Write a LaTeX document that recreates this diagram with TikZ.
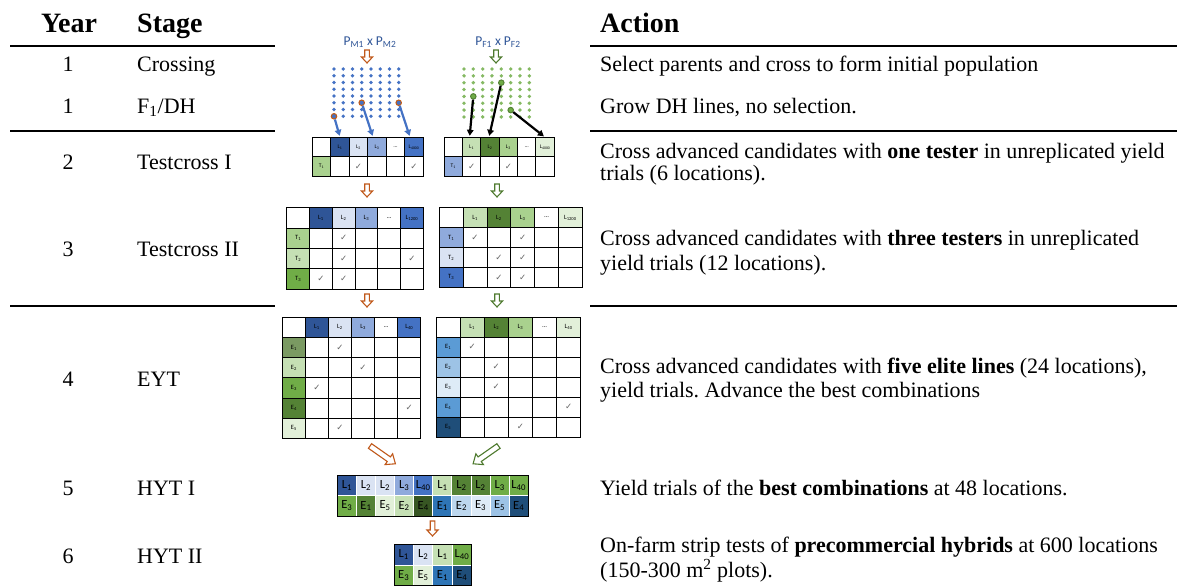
\documentclass[tikz,border=0pt]{standalone}
\usepackage{fontspec}
\setmainfont{Liberation Serif}
\newfontfamily\calib{Carlito}
\newfontfamily\djv{DejaVu Sans}
\usetikzlibrary{arrows.meta}
\frenchspacing
\definecolor{cDB}{HTML}{2F5597}
\definecolor{cLB}{HTML}{DAE3F3}
\definecolor{cMB}{HTML}{8FAADC}
\definecolor{cB}{HTML}{4472C4}
\definecolor{cLG}{HTML}{C5E0B4}
\definecolor{cDG}{HTML}{548235}
\definecolor{cMG}{HTML}{A9D18E}
\definecolor{cVG}{HTML}{E2F0D9}
\definecolor{cG}{HTML}{70AD47}
\definecolor{cOG}{HTML}{7A9A62}
\definecolor{cDDG}{HTML}{375623}
\definecolor{cSB}{HTML}{5B9BD5}
\definecolor{cSBb}{HTML}{9DC3E6}
\definecolor{cSBc}{HTML}{DEEBF7}
\definecolor{cNB}{HTML}{1F4E79}
\definecolor{cEB}{HTML}{2E75B6}
\definecolor{cEBb}{HTML}{BDD7EE}
\definecolor{abrown}{HTML}{C0581A}
\definecolor{agreen}{HTML}{4E7A2E}
\definecolor{ptxt}{HTML}{2F5597}
\definecolor{seldot}{HTML}{C55A11}
\tikzset{
  hdr/.style={font=\fontsize{28}{33}\selectfont\bfseries, inner sep=0},
  body/.style={font=\fontsize{22}{26}\selectfont, inner sep=0, anchor=base west},
  yr/.style={font=\fontsize{22}{26}\selectfont, inner sep=0, anchor=base},
  rulel/.style={line width=1.3pt},
  tline/.style={line width=0.9pt, line cap=rect},
  chk/.style={font=\djv\fontsize{8.5}{9}\selectfont, text=black!60, inner sep=0},
  plabel/.style={font=\calib\fontsize{13.5}{15}\selectfont, text=ptxt, inner sep=0},
  seldotL/.style={circle, draw=seldot, fill=cB, line width=1pt, minimum size=5.5pt, inner sep=0},
  seldotR/.style={circle, draw=cDG, fill=cG, line width=1pt, minimum size=5.5pt, inner sep=0},
  barrow/.style={cB, line width=2.2pt, -{Triangle[length=6pt,width=6.5pt]}, shorten >=1.5pt},
  karrow/.style={black, line width=2.2pt, -{Triangle[length=6pt,width=6.5pt]}, shorten >=1.5pt},
  pics/harrow/.style={code={
    \draw[line width=1.1pt, fill=white, line join=miter]
      (-2.3,0) -- (2.3,0) -- (2.3,#1-6) -- (5.6,#1-6) -- (0,#1) -- (-5.6,#1-6) -- (-2.3,#1-6) -- cycle;}},
  pics/darrow/.style={code={
    \draw[line width=1.1pt, fill=white, line join=miter]
      (-2.8,0) -- (2.8,0) -- (2.8,#1-8) -- (6.6,#1-8) -- (0,#1) -- (-6.6,#1-8) -- (-2.8,#1-8) -- cycle;}}
}
% #1 prefix, #2 origin, #3 w, #4 h, #5 last row index, #6 headers, #7 row headers, #8 checks, #9 font size
\newcommand\mktable[9]{%
\begin{scope}[shift={(#2)}, x=#3pt, y=-#4pt,
  cell/.style={inner sep=0, outer sep=0, minimum width=#3pt, minimum height=#4pt,
    font=\calib\fontsize{#9}{#9}\selectfont}]
  \foreach \c/\f/\t in {#6} {\node[cell, fill=\f] (#1-h\c) at (\c+0.5,0.5) {\t};}
  \foreach \r/\f/\t in {#7} {\node[cell, fill=\f] (#1-r\r) at (0.5,\r+0.5) {\t};}
  \foreach \c/\r in {#8} {\node[chk] (#1-k\c\r) at (\c+0.5,\r+0.5) {✓};}
  \foreach \i in {0,...,6} {\draw[tline] (\i,0) -- (\i,#5);}
  \foreach \j in {0,...,#5} {\draw[tline] (0,\j) -- (6,\j);}
\end{scope}}
\begin{document}
\begin{tikzpicture}[x=1pt,y=-1pt]
\useasboundingbox (0,0) rectangle (1177,586);

% ---------- headers and rules ----------
\node[hdr, anchor=base] (hY) at (69,33) {Year};
\node[hdr, anchor=base west] (hS) at (137,33) {Stage};
\node[hdr, anchor=base west] (hA) at (600,33) {Action};
\draw[rulel] (10,46) -- (275,46);
\draw[rulel] (590,46) -- (1177,46);
\draw[rulel] (10,131) -- (275,131);
\draw[rulel] (590,131) -- (1177,131);
\draw[rulel] (10,306) -- (275,306);
\draw[rulel] (590,306) -- (1177,306);

% ---------- year / stage ----------
\node[yr] (y1) at (68,71) {1};
\node[yr] (y2) at (68,113) {1};
\node[yr] (y3) at (68,169) {2};
\node[yr] (y4) at (68,256) {3};
\node[yr] (y5) at (68,386) {4};
\node[yr] (y6) at (68,495) {5};
\node[yr] (y7) at (68,563) {6};
\node[body] (s1) at (137,71) {Crossing};
\node[body] (s2) at (137,113) {F\textsubscript{1}/DH};
\node[body] (s3) at (137,169) {Testcross I};
\node[body] (s4) at (137,256) {Testcross II};
\node[body] (s5) at (137,386) {EYT};
\node[body] (s6) at (137,495) {HYT I};
\node[body] (s7) at (137,563) {HYT II};

% ---------- actions ----------
\node[body] (a1) at (600,71) {Select parents and cross to form initial population};
\node[body] (a2) at (600,113) {Grow DH lines, no selection.};
\node[body] (a3a) at (600,158) {Cross advanced candidates with \textbf{one tester} in unreplicated yield};
\node[body] (a3b) at (600,180) {trials (6 locations).};
\node[body] (a4a) at (600,245) {Cross advanced candidates with \textbf{three testers} in unreplicated};
\node[body] (a4b) at (600,270) {yield trials (12 locations).};
\node[body] (a5a) at (600,373) {Cross advanced candidates with \textbf{five elite lines} (24 locations),};
\node[body] (a5b) at (600,397) {yield trials. Advance the best combinations};
\node[body] (a6) at (600,495) {Yield trials of the \textbf{best combinations} at 48 locations.};
\node[body] (a7a) at (600,552) {On-farm strip tests of \textbf{precommercial hybrids} at 600 locations};
\node[body] (a7b) at (600,577) {(150-300 m\textsuperscript{2} plots).};

% ---------- parents ----------
\node[plabel] (pm) at (370,42) {P\textsubscript{M1} x P\textsubscript{M2}};
\node[plabel] (pf) at (498,42) {P\textsubscript{F1} x P\textsubscript{F2}};
\pic[abrown] (ar1) at (367,50) {harrow=13};
\pic[agreen] (ar2) at (496,50) {harrow=13};

% dot grids
\foreach \i in {0,...,7} \foreach \j in {0,...,7}
  {\fill[cB] (334+\i*9.24, 69+\j*6.75) circle[radius=1.9pt];}
\foreach \i in {0,...,7} \foreach \j in {0,...,7}
  {\fill[cG!85] (464+\i*9.33, 69+\j*6.85) circle[radius=1.9pt];}
\node[seldotL] (sl1) at (334,116.3) {};
\node[seldotL] (sl2) at (361.7,102.75) {};
\node[seldotL] (sl3) at (398.7,102.75) {};
\node[seldotR] (sr1) at (473.3,96.4) {};
\node[seldotR] (sr2) at (501.3,82.7) {};
\node[seldotR] (sr3) at (510.7,110.1) {};

% ---------- Testcross I ----------
\mktable{t1l}{312.3,137.3}{18.5}{19.35}{2}
  {0/white/{}, 1/cDB/L\textsubscript{1}, 2/cLB/L\textsubscript{2}, 3/cMB/L\textsubscript{3}, 4/white/\ldots, 5/cB/L\textsubscript{4000}}
  {1/cMG/T\textsubscript{1}}
  {2/1, 5/1}{5.5}
\mktable{t1r}{444,137.3}{18.38}{19.35}{2}
  {0/white/{}, 1/cLG/L\textsubscript{1}, 2/cDG/L\textsubscript{2}, 3/cMG/L\textsubscript{3}, 4/white/\ldots, 5/cVG/L\textsubscript{4000}}
  {1/cMB/T\textsubscript{1}}
  {1/1, 3/1}{5.5}

\draw[barrow] (sl1) -- (t1l-h1.north);
\draw[barrow] (sl2) -- ([xshift=-4pt]t1l-h3.north);
\draw[barrow] (sl3) -- ([xshift=-4pt]t1l-h5.north);
\draw[karrow] (sr1) -- ([xshift=-2pt]t1r-h1.north);
\draw[karrow] (sr2) -- ([xshift=-1pt]t1r-h2.north);
\draw[karrow] (sr3) -- (t1r-h5.north);

\pic[abrown] (ar3) at (367,184) {harrow=13};
\pic[agreen] (ar4) at (497,184) {harrow=13};

% ---------- Testcross II ----------
\mktable{t2l}{286.7,207.7}{22.77}{20.4}{4}
  {0/white/{}, 1/cDB/L\textsubscript{1}, 2/cLB/L\textsubscript{2}, 3/cMB/L\textsubscript{3}, 4/white/\ldots, 5/cB/L\textsubscript{1200}}
  {1/cMG/T\textsubscript{1}, 2/cLG/T\textsubscript{2}, 3/cG/T\textsubscript{3}}
  {2/1, 2/2, 5/2, 1/3, 2/3}{6.5}
\mktable{t2r}{439.3,207.7}{23.83}{19.9}{4}
  {0/white/{}, 1/cLG/L\textsubscript{1}, 2/cDG/L\textsubscript{2}, 3/cMG/L\textsubscript{3}, 4/white/\ldots, 5/cVG/L\textsubscript{1200}}
  {1/cMB/T\textsubscript{1}, 2/cLB/T\textsubscript{2}, 3/cB/T\textsubscript{3}}
  {1/1, 3/1, 2/2, 3/2, 2/3, 3/3}{6.5}

\pic[abrown] (ar5) at (367,294) {harrow=13};
\pic[agreen] (ar6) at (497,294) {harrow=13};

% ---------- EYT ----------
\mktable{t3l}{282.3,317.3}{23.07}{20.17}{6}
  {0/white/{}, 1/cDB/L\textsubscript{1}, 2/cLB/L\textsubscript{2}, 3/cMB/L\textsubscript{3}, 4/white/\ldots, 5/cB/L\textsubscript{40}}
  {1/cOG/E\textsubscript{1}, 2/cLG/E\textsubscript{2}, 3/cG/E\textsubscript{3}, 4/cDG/E\textsubscript{4}, 5/cVG/E\textsubscript{5}}
  {2/1, 3/2, 1/3, 5/4, 2/5}{6.5}
\mktable{t3r}{436,317.3}{24.12}{20}{6}
  {0/white/{}, 1/cLG/L\textsubscript{1}, 2/cDG/L\textsubscript{2}, 3/cMG/L\textsubscript{3}, 4/white/\ldots, 5/cVG/L\textsubscript{40}}
  {1/cSB/E\textsubscript{1}, 2/cSBb/E\textsubscript{2}, 3/cSBc/E\textsubscript{3}, 4/cSB/E\textsubscript{4}, 5/cNB/E\textsubscript{5}}
  {1/1, 2/2, 2/3, 5/4, 3/5}{6.5}

\pic[abrown, rotate=55] (ar7) at (370,446) {darrow=31};
\pic[agreen, rotate=-55] (ar8) at (498.5,446) {darrow=31};

% ---------- HYT I ----------
\begin{scope}[shift={(337.3,475.3)}, x=19.1pt, y=-20.4pt,
  hcell/.style={inner sep=0, outer sep=0, minimum width=19.1pt, minimum height=20.4pt,
    draw=white, line width=1pt, font=\calib\fontsize{12.5}{13}\selectfont}]
  \foreach \c/\f/\t in {0/cDB/1, 1/cLB/2, 2/cLB/2, 3/cMB/3, 4/cB/40, 5/cLG/1, 6/cDG/2, 7/cDG/2, 8/cG/3, 9/cG/40}
    {\node[hcell, fill=\f] (h1-t\c) at (\c+0.5,0.5) {L\textsubscript{\t}};}
  \foreach \c/\f/\t in {0/cG/3, 1/cDG/1, 2/cVG/5, 3/cLG/2, 4/cDDG/4, 5/cEB/1, 6/cEBb/2, 7/cSBc/3, 8/cSBb/5, 9/cNB/4}
    {\node[hcell, fill=\f] (h1-b\c) at (\c+0.5,1.5) {E\textsubscript{\t}};}
  \draw[tline] (0,0) rectangle (10,2);
\end{scope}

\pic[abrown] (ar9) at (432.5,521) {harrow=15};

% ---------- HYT II ----------
\begin{scope}[shift={(394,544.3)}, x=19.4pt, y=-20.7pt,
  hcell/.style={inner sep=0, outer sep=0, minimum width=19.4pt, minimum height=20.7pt,
    draw=white, line width=1pt, font=\calib\fontsize{12.5}{13}\selectfont}]
  \foreach \c/\f/\t in {0/cDB/1, 1/cLB/2, 2/cLG/1, 3/cG/40}
    {\node[hcell, fill=\f] (h2-t\c) at (\c+0.5,0.5) {L\textsubscript{\t}};}
  \foreach \c/\f/\t in {0/cG/3, 1/cVG/5, 2/cEB/1, 3/cNB/4}
    {\node[hcell, fill=\f] (h2-b\c) at (\c+0.5,1.5) {E\textsubscript{\t}};}
  \draw[tline] (0,0) rectangle (4,2);
\end{scope}

\end{tikzpicture}
\end{document}
